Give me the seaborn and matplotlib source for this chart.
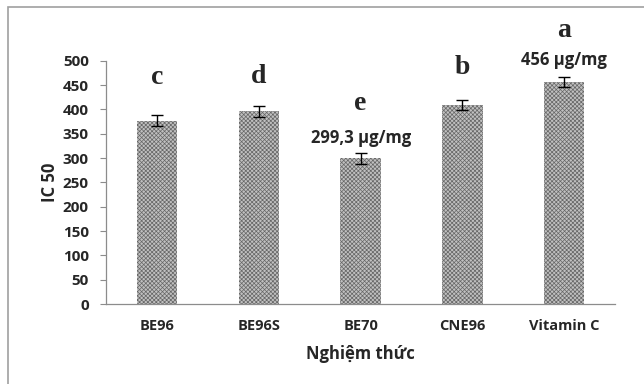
import numpy as np
import pandas as pd
import seaborn as sns
import matplotlib.pyplot as plt
from matplotlib.patches import Rectangle

treatments = ['BE96', 'BE96S', 'BE70', 'CNE96', 'Vitamin C']
ic50 = [377, 396, 299.3, 409, 456]
ic50_err = [11, 11, 11, 11, 11]
letters = ['c', 'd', 'e', 'b', 'a']
letter_y = [466, 468, 413, 487, 562]
value_labels = {2: '299,3 µg/mg', 4: '456 µg/mg'}
value_label_y = {2: 342, 4: 502}

df = pd.DataFrame({'Nghiệm thức': treatments, 'IC 50': ic50})

sns.set_style('white')
plt.rcParams['font.family'] = ['Open Sans', 'DejaVu Sans']
plt.rcParams['hatch.linewidth'] = 0.5

fig = plt.figure(figsize=(6.44, 3.84), dpi=100)
ax = fig.add_axes([0.165, 0.208, 0.79, 0.634])

sns.barplot(data=df, x='Nghiệm thức', y='IC 50', color='#c0c0c0', width=0.4,
            ax=ax, saturation=1)
for bar in ax.patches:
    bar.set_hatch('xxxxxxxx')
    bar.set_edgecolor('#666666')
    bar.set_linewidth(0)

ax.errorbar(range(len(treatments)), ic50, yerr=ic50_err, fmt='none',
            ecolor='black', elinewidth=1, capsize=4, capthick=1)

for i, (l, y) in enumerate(zip(letters, letter_y)):
    ax.text(i, y, l, ha='center', va='center', fontsize=20, fontweight='bold',
            family=['Liberation Serif'], clip_on=False)
for i, t in value_labels.items():
    ax.text(i, value_label_y[i], t, ha='center', va='center', fontsize=12,
            fontweight='bold', clip_on=False)

ax.set_ylim(0, 500)
ax.set_yticks(range(0, 501, 50))
ax.set_xlim(-0.5, len(treatments) - 0.5)
ax.set_xlabel('Nghiệm thức', fontsize=12, fontweight='bold', labelpad=8)
ax.set_ylabel('IC 50', fontsize=12, fontweight='bold', labelpad=3)
ax.tick_params(axis='y', labelsize=11, length=4.5, color='#8c8c8c', width=0.8,
               left=True, pad=8)
ax.tick_params(axis='x', labelsize=10.5, length=0, pad=11)
for lbl in ax.get_xticklabels() + ax.get_yticklabels():
    lbl.set_fontweight('bold')

sns.despine(ax=ax)
for s in ['left', 'bottom']:
    ax.spines[s].set_color('#8c8c8c')
    ax.spines[s].set_linewidth(0.9)

fig.patches.append(Rectangle((8 / 644, -0.05), 1.2, 1 - 7 / 384 + 0.05,
                             transform=fig.transFigure, fill=False,
                             edgecolor='#a0a0a0', linewidth=1.2))

fig.savefig('out.png', dpi=100)
